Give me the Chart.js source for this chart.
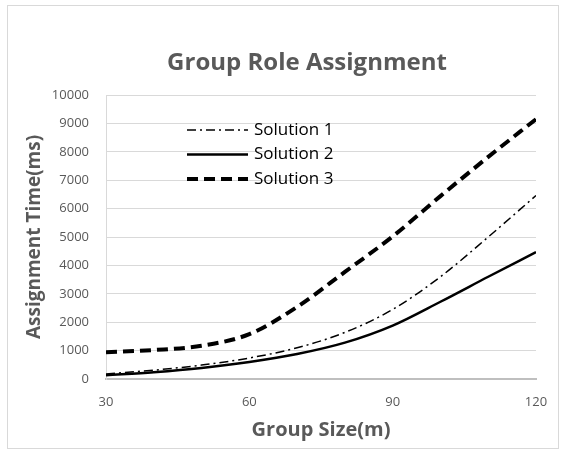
<!DOCTYPE html>
<html>
<head>
<meta charset="utf-8">
<script src="https://cdn.jsdelivr.net/npm/chart.js@4.4.0/dist/chart.umd.min.js"></script>
<style>
  html, body { margin: 0; padding: 0; background: #fff; }
  #wrap { width: 566px; height: 454px; position: relative; }
</style>
</head>
<body>
<div id="wrap"><canvas id="chart" width="566" height="454"></canvas></div>
<script>
// group sizes (m)
var groupSizes = [30, 40, 50, 60, 70, 80, 90, 100, 110, 120];
// assignment time (ms)
var solution1 = [180, 310, 490, 740, 1100, 1640, 2450, 3600, 5000, 6460];
var solution2 = [130, 240, 390, 600, 880, 1280, 1880, 2720, 3600, 4470];
var solution3 = [940, 1020, 1170, 1580, 2540, 3770, 5020, 6440, 7820, 9150];
var seriesNames = ["Solution 1", "Solution 2", "Solution 3"];
var xTicks = [30, 60, 90, 120];

var grey = "#595959";
var fontFam = "'Open Sans', 'DejaVu Sans', sans-serif";

function pts(vals) {
  return groupSizes.map(function (g, i) { return { x: g, y: vals[i] }; });
}

// frame, title and legend drawn on the canvas
var extras = {
  id: "extras",
  beforeDraw: function (chart) {
    var ctx = chart.ctx;
    ctx.save();
    ctx.fillStyle = "#fff";
    ctx.fillRect(0, 0, chart.width, chart.height);
    ctx.strokeStyle = "#d9d9d9";
    ctx.lineWidth = 1;
    ctx.strokeRect(7.5, 5.5, 551, 443);
    ctx.restore();
  },
  afterDraw: function (chart) {
    var ctx = chart.ctx;
    ctx.save();
    ctx.fillStyle = grey;
    ctx.font = "bold 24px " + fontFam;
    ctx.textAlign = "center";
    ctx.textBaseline = "middle";
    ctx.fillText("Group Role Assignment", 307, 63);

    chart.data.datasets.forEach(function (ds, i) {
      var y = 130 + i * 24.5;
      ctx.beginPath();
      ctx.strokeStyle = ds.borderColor;
      ctx.lineWidth = ds.borderWidth;
      ctx.setLineDash(ds.borderDash || []);
      ctx.moveTo(187, y);
      ctx.lineTo(248, y);
      ctx.stroke();
      ctx.setLineDash([]);
      ctx.fillStyle = "#000";
      ctx.font = "17px " + fontFam;
      ctx.textAlign = "left";
      ctx.fillText(ds.label, 254, y);
    });
    ctx.restore();
  }
};

new Chart(document.getElementById("chart"), {
  type: "line",
  data: {
    datasets: [
      {
        label: seriesNames[0],
        data: pts(solution1),
        borderColor: "#000",
        borderWidth: 1.5,
        borderDash: [9, 4, 2, 4]
      },
      {
        label: seriesNames[1],
        data: pts(solution2),
        borderColor: "#000",
        borderWidth: 2.5
      },
      {
        label: seriesNames[2],
        data: pts(solution3),
        borderColor: "#000",
        borderWidth: 4,
        borderDash: [11, 6]
      }
    ]
  },
  options: {
    responsive: false,
    animation: false,
    layout: { padding: { top: 95, right: 30, bottom: 12, left: 18 } },
    elements: {
      point: { radius: 0 },
      line: { tension: 0.4, cubicInterpolationMode: "monotone", fill: false }
    },
    plugins: {
      legend: { display: false },
      title: { display: false },
      tooltip: { enabled: false }
    },
    scales: {
      x: {
        type: "linear",
        min: 30,
        max: 120,
        afterBuildTicks: function (scale) {
          scale.ticks = xTicks.map(function (v) { return { value: v }; });
        },
        afterFit: function (scale) { scale.height = 63; },
        grid: { display: false, drawTicks: false },
        border: { color: "#bfbfbf", width: 2 },
        ticks: {
          color: grey, padding: 15, font: { size: 13, family: fontFam },
          callback: function (v) { return String(v); }
        },
        title: {
          display: true,
          text: "Group Size(m)",
          color: grey,
          padding: { top: 1, bottom: 0 },
          font: { size: 20, weight: "bold", family: fontFam }
        }
      },
      y: {
        min: 0,
        max: 10000,
        ticks: {
          stepSize: 1000, color: grey, padding: 17, font: { size: 13, family: fontFam },
          callback: function (v) { return String(v); }
        },
        afterFit: function (scale) { scale.width = 88; },
        grid: { color: "#d9d9d9", drawTicks: false },
        border: { color: "#d9d9d9" },
        title: {
          display: true,
          text: "Assignment Time(ms)",
          color: grey,
          padding: { top: 5, bottom: 0 },
          font: { size: 19, weight: "bold", family: fontFam }
        }
      }
    }
  },
  plugins: [extras]
});
</script>
</body>
</html>
